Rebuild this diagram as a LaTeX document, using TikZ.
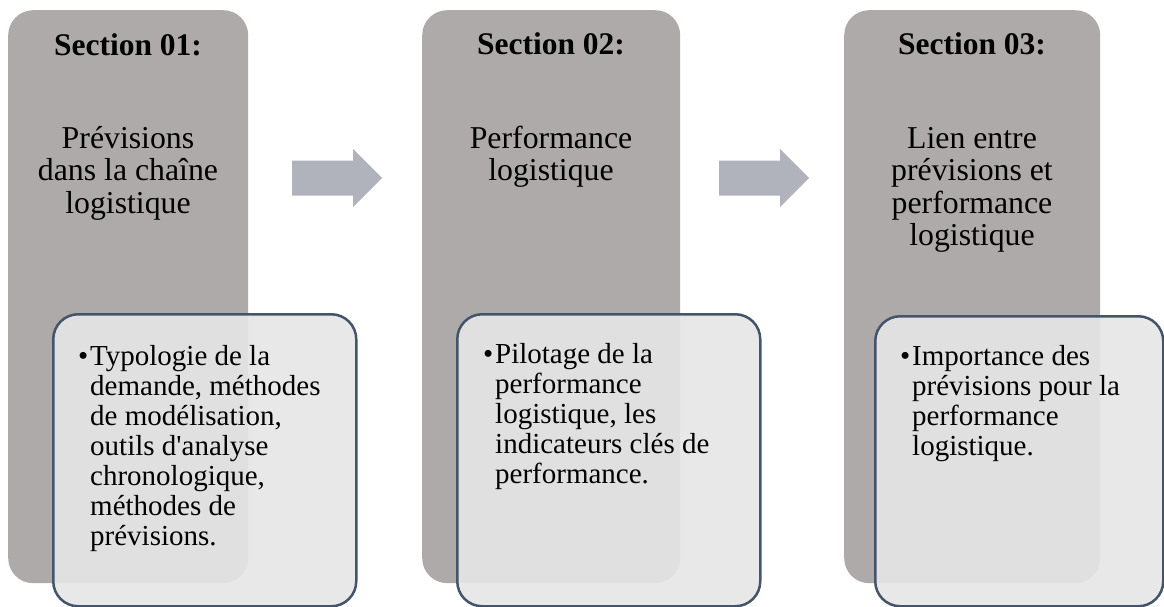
\documentclass[tikz,border=0pt]{standalone}
\usepackage{fontspec}
\setmainfont{Liberation Serif}
\usetikzlibrary{calc}

\definecolor{secgrey}{HTML}{AEAAAA}
\definecolor{detailfill}{HTML}{E7E6E6}
\definecolor{detailline}{HTML}{44546A}
\definecolor{flowgrey}{HTML}{B0B3BB}

\tikzset{
  greybox/.style={fill=secgrey, draw=none, rounded corners=25pt,
    anchor=north west, inner sep=0pt},
  detailbox/.style={fill=detailfill, fill opacity=0.9, draw=detailline,
    line width=2.5pt, rounded corners=25pt, anchor=north west, inner sep=0pt},
  secthead/.style={anchor=base, inner sep=0pt,
    font=\bfseries\fontsize{31.5}{32.5}\selectfont},
  sectname/.style={anchor=base, inner sep=0pt,
    font=\fontsize{31.8}{32.5}\selectfont},
  bullettext/.style={anchor=base west, inner sep=0pt,
    font=\fontsize{29}{30}\selectfont},
  blockarrow/.pic={
    \fill[flowgrey] (-45,-17.5) -- (16,-17.5) -- (16,-29) -- (45,0)
      -- (16,29) -- (16,17.5) -- (-45,17.5) -- cycle;
  }
}

\newcommand{\bulletlines}[1]{\makebox[12pt][l]{•}\begin{tabular}[t]{@{}l@{}}#1\end{tabular}}
\newcommand{\centerlines}[1]{\begin{tabular}[t]{@{}c@{}}#1\end{tabular}}

\begin{document}
\begin{tikzpicture}[x=1pt, y=-1pt]
\useasboundingbox (0,0) rectangle (1164,607);

% three section columns
\node[greybox, minimum width=240pt, minimum height=573pt] (sec1) at (8,10) {};
\node[greybox, minimum width=258pt, minimum height=573pt] (sec2) at (422,10) {};
\node[greybox, minimum width=256pt, minimum height=573pt] (sec3) at (844,10) {};

% block arrows between the columns
\pic at ($(sec1.north east)!0.5!(sec2.north west) + (2,168)$) {blockarrow};
\pic at ($(sec2.north east)!0.5!(sec3.north west) + (2,168)$) {blockarrow};

% headings and titles
\node[secthead] (head1) at (128,56) {Section 01:};
\node[secthead] (head2) at (551,55) {Section 02:};
\node[secthead] (head3) at (972,55) {Section 03:};

\node[sectname] (name1) at (128,148) {\centerlines{Prévisions\\dans la chaîne\\logistique}};
\node[sectname] (name2) at (551,148) {\centerlines{Performance\\logistique}};
\node[sectname] (name3) at (972,148) {\centerlines{Lien entre\\prévisions et\\performance\\logistique}};

% translucent detail cards
\node[detailbox, minimum width=303pt, minimum height=292pt] (card1) at (52,313) {};
\node[detailbox, minimum width=303pt, minimum height=292pt] (card2) at (456,313) {};
\node[detailbox, minimum width=288pt, minimum height=290pt] (card3) at (874,315) {};

\node[bullettext] (text1) at (78,365) {\bulletlines{Typologie de la\\demande, méthodes\\de modélisation,\\outils d\textquotesingle analyse\\chronologique,\\méthodes de\\prévisions.}};
\node[bullettext] (text2) at (483,363) {\bulletlines{Pilotage de la\\performance\\logistique, les\\indicateurs clés de\\performance.}};
\node[bullettext] (text3) at (900,365) {\bulletlines{Importance des\\prévisions pour la\\performance\\logistique.}};
\end{tikzpicture}
\end{document}
